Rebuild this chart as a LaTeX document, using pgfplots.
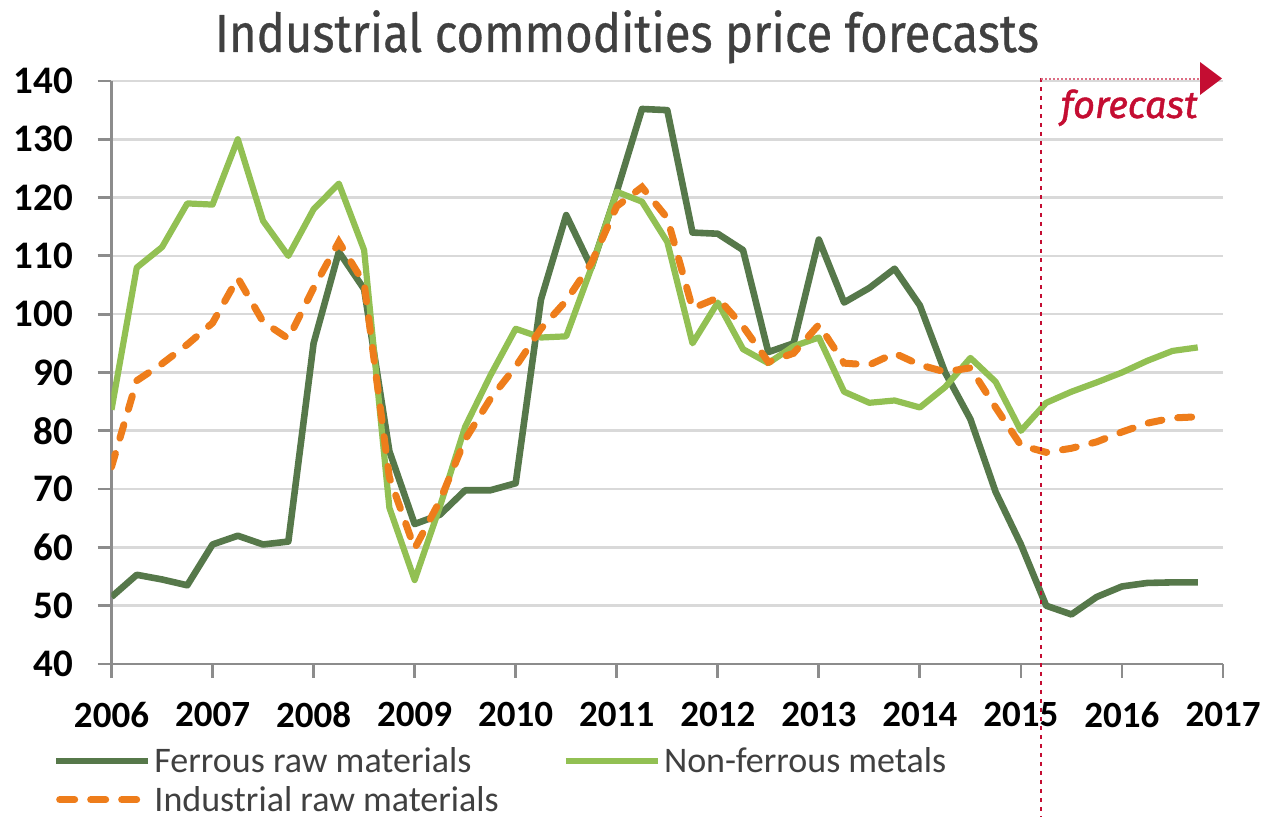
\documentclass[border=0pt]{standalone}
\usepackage{fontspec}
\setmainfont{Carlito}
\newfontfamily\titlefont{Fira Sans}[FakeBold=0.6]
\newfontfamily\fcfont{Fira Sans}[FakeBold=1.2]
\usepackage{graphicx}
\usepackage{pgfplots}
\pgfplotsset{compat=1.18}
\usepackage{pgfplotstable}
\definecolor{ferrous}{HTML}{56784A}
\definecolor{nonferrous}{HTML}{92C053}
\definecolor{industrial}{HTML}{EE7D1B}
\definecolor{axisgray}{HTML}{8C8C8C}
\definecolor{gridgray}{HTML}{D9D9D9}
\definecolor{fcred}{HTML}{C40D32}
\definecolor{txtgray}{HTML}{404040}

\pgfplotsset{
  solidlegend/.style={legend image code/.code={\draw[##1] (0pt,0pt) -- (46pt,0pt);}},
  dashlegend/.style={legend image code/.code={\draw[##1, dash pattern=on 7.5pt off 8pt] (1.75pt,0pt) -- (43pt,0pt);}},
}

\pgfplotstableread{
x v
2006.00 51.5
2006.25 55.3
2006.50 54.5
2006.75 53.5
2007.00 60.5
2007.25 62
2007.50 60.5
2007.75 61
2008.00 95
2008.25 110.7
2008.50 104.3
2008.75 76.5
2009.00 64
2009.25 65.6
2009.50 69.8
2009.75 69.8
2010.00 71
2010.25 102.5
2010.50 117
2010.75 108
2011.00 121
2011.25 135.2
2011.50 135
2011.75 114
2012.00 113.8
2012.25 111
2012.50 93.5
2012.75 95
2013.00 112.8
2013.25 102
2013.50 104.5
2013.75 107.8
2014.00 101.5
2014.25 90
2014.50 82
2014.75 69.5
2015.00 60.5
2015.25 50
2015.50 48.5
2015.75 51.5
2016.00 53.3
2016.25 53.9
2016.50 54
2016.75 54
}\ferrousdata

\pgfplotstableread{
x v
2006.00 83.6
2006.25 108
2006.50 111.5
2006.75 119
2007.00 118.8
2007.25 130
2007.50 116
2007.75 110
2008.00 118
2008.25 122.4
2008.50 111
2008.75 66.8
2009.00 54.4
2009.25 67
2009.50 80.7
2009.75 89.5
2010.00 97.5
2010.25 96
2010.50 96.2
2010.75 108
2011.00 121
2011.25 119.3
2011.50 112.4
2011.75 95
2012.00 102
2012.25 94
2012.50 91.6
2012.75 94.5
2013.00 96
2013.25 86.7
2013.50 84.8
2013.75 85.2
2014.00 84
2014.25 87.5
2014.50 92.5
2014.75 88.4
2015.00 80
2015.25 84.8
2015.50 86.7
2015.75 88.3
2016.00 90
2016.25 92
2016.50 93.7
2016.75 94.3
}\nonferrousdata

\pgfplotstableread{
x v
2006.00 73.8
2006.25 88.6
2006.50 91.5
2006.75 94.8
2007.00 98.5
2007.25 106.2
2007.50 98.7
2007.75 95.8
2008.00 104.5
2008.25 112.4
2008.50 105.3
2008.75 72
2009.00 59.8
2009.25 68
2009.50 78.5
2009.75 85.5
2010.00 91
2010.25 97.5
2010.50 102.3
2010.75 108.8
2011.00 118.5
2011.25 121.8
2011.50 116.5
2011.75 101
2012.00 102.8
2012.25 97.9
2012.50 91.8
2012.75 93.3
2013.00 98.2
2013.25 91.6
2013.50 91.3
2013.75 93.3
2014.00 91.3
2014.25 90.1
2014.50 90.8
2014.75 84
2015.00 77.5
2015.25 76.3
2015.50 77
2015.75 78.1
2016.00 79.8
2016.25 81.3
2016.50 82.2
2016.75 82.4
}\industrialdata

\begin{document}
\begin{tikzpicture}
\useasboundingbox (-55.75pt,-76.5pt) rectangle (578.25pt,332pt);
\begin{axis}[
  at={(0pt,0pt)}, anchor=south west,
  scale only axis, width=555.75pt, height=291.5pt,
  xmin=2006, xmax=2017, ymin=40, ymax=140,
  xtick={2006,2007,2008,2009,2010,2011,2012,2013,2014,2015,2016,2017},
  xticklabels={2006,2007,2008,2009,2010,2011,2012,2013,2014,2015,2016,2017},
  ytick={40,50,60,70,80,90,100,110,120,130,140},
  axis x line=bottom, axis y line=left,
  axis line style={draw=axisgray, line width=1.4pt, -},
  tick align=outside, major tick length=7pt,
  tick style={draw=axisgray, line width=1.4pt},
  ymajorgrids, grid style={draw=gridgray, line width=1.3pt},
  /pgf/number format/assume math mode=true,
  ticklabel style={font=\bfseries\fontsize{18.5}{20}\selectfont, text=black},
  yticklabel style={anchor=east, inner sep=0pt, xshift=-12pt, font=\bfseries\fontsize{19.5}{20}\selectfont},
  xticklabel style={anchor=north, inner sep=0pt, yshift=-12pt},
  legend columns=2,
  legend cell align=left,
  legend style={draw=none, fill=none, at={(-0.0585,-0.1331)}, anchor=north west,
    font=\fontsize{18}{20}\selectfont, text=txtgray,
    nodes={inner sep=1.5pt, text height=12pt, text depth=0pt},
    row sep=4.35pt,
    /tikz/every even column/.append style={column sep=30.5pt}},
  solidlegend,
]
\addplot[ferrous, line width=3.3pt, line join=round] table[x=x,y=v]{\ferrousdata};
\addlegendentry{Ferrous raw materials}
\addplot[nonferrous, line width=3.1pt, line join=round] table[x=x,y=v]{\nonferrousdata};
\addlegendentry{Non-ferrous metals}
\addplot[industrial, line width=3.5pt, line cap=round, dash pattern=on 7pt off 8pt, dashlegend] table[x=x,y=v]{\industrialdata};
\addlegendentry{Industrial raw materials}
\end{axis}
% forecast annotation
\draw[fcred, line width=1.4pt, dash pattern=on 2pt off 2.5pt] (464.75pt,293pt) -- (464.75pt,-76.5pt);
\draw[fcred!60, line width=0.9pt, dash pattern=on 1pt off 1pt] (464.75pt,292.5pt) -- (546pt,292.5pt);
\fill[fcred] (544.25pt,301pt) -- (555.25pt,292.75pt) -- (544.25pt,284.5pt) -- cycle;
\node[anchor=base east, inner sep=0pt, text=fcred, font=\fcfont\itshape\fontsize{19}{20}\selectfont] at (543.25pt,273pt) {forecast};
% title
\node[anchor=base, inner sep=0pt, text=txtgray] at (257.75pt,306pt)
  {\resizebox{412pt}{\height}{\titlefont\fontsize{26.8}{30}\selectfont Industrial commodities price forecasts}};
\end{tikzpicture}
\end{document}
